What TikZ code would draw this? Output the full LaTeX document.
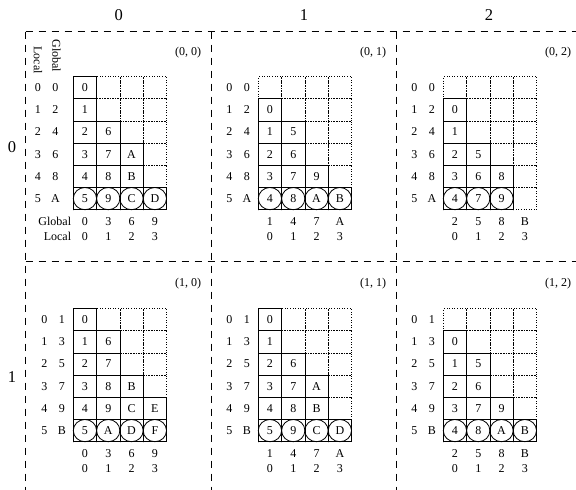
\documentclass[tikz,border=0pt]{standalone}
\usepackage{fontspec}
\setmainfont{Liberation Serif}
\usetikzlibrary{shapes.geometric}

\tikzset{
    emptycell/.style={draw, dotted, line width=0.6pt, anchor=north west, minimum width=23.3pt, minimum height=22.2pt, inner sep=0pt, outer sep=0pt},
    fullcell/.style={draw, line width=0.8pt, anchor=north west, minimum width=23.3pt, minimum height=22.2pt, inner sep=0pt, outer sep=0pt},
    diagcell/.style={ellipse, draw, line width=0.8pt, minimum width=23.3pt, minimum height=22.2pt, inner sep=0pt},
    idx/.style={inner sep=0pt},
    gridhead/.style={font=\fontsize{16.5}{18}\selectfont},
    sep/.style={line width=1.3pt, dash pattern=on 7.5pt off 5.5pt},
}

% #1 grid row, #2 grid column, #3 stored cells, #4 circled cells,
% #5 global row numbers, #6 global column numbers, #7 extra label gap
\newcommand{\procblock}[7]{%
  \begin{scope}[shift={({73.3+185*#2},{76.5+232*#1})}]
    % dotted local array
    \foreach \r in {0,...,5}
      \foreach \c in {0,...,3}
        \node[emptycell] (e#1#2-\r-\c) at ({23.3*\c},{22.2*\r}) {};
    % stored entries
    \foreach \r/\c/\t in {#3}
      \node[fullcell] (f#1#2-\r-\c) at ({23.3*\c},{22.2*\r}) {\t};
    % last local row
    \foreach \c/\t in {#4}
      \node[fullcell] (f#1#2-5-\c) at ({23.3*\c},111) {}
        node[diagcell] (d#1#2-\c) at (f#1#2-5-\c.center) {\t};
    % row indices
    \foreach \g [count=\r from 0] in {#5}
      \node[idx] (rl#1#2-\r) at ([xshift={-40.6pt-#7pt}]e#1#2-\r-0.center) {\r}
        node[idx] (rg#1#2-\r) at ([xshift={-23.1pt-#7pt}]e#1#2-\r-0.center) {\g};
    % column indices
    \foreach \g [count=\c from 0] in {#6}
      \node[idx] (cg#1#2-\c) at ({11.65+23.3*\c},145) {\g}
        node[idx] (cl#1#2-\c) at ({11.65+23.3*\c},160) {\c};
  \end{scope}}

\begin{document}
\begin{tikzpicture}[x=1pt, y=-1pt, font=\fontsize{12}{14}\selectfont]
    \useasboundingbox (0,0) rectangle (576,490);

    % process grid
    \draw[sep] (25.7,31.7) -- (576,31.7);
    \draw[sep] (25.7,261.7) -- (576,261.7);
    \foreach \x in {25.7,211.7,396.7}
        \draw[sep] (\x,31.7) -- (\x,490);

    \node[gridhead] (ch0) at (118.7,15) {0};
    \node[gridhead] (ch1) at (304,15) {1};
    \node[gridhead] (ch2) at (489,15) {2};
    \node[gridhead] (rh0) at (12,146.7) {0};
    \node[gridhead] (rh1) at (12,376.7) {1};

    \node (p00) at (188,53) {(0, 0)};
    \node (p01) at (373,53) {(0, 1)};
    \node (p02) at (558,53) {(0, 2)};
    \node (p10) at (188,283.3) {(1, 0)};
    \node (p11) at (373,283.3) {(1, 1)};
    \node (p12) at (558,283.3) {(1, 2)};

    \node[idx, rotate=-90] (lochead) at (38,60) {Local};
    \node[idx, rotate=-90] (globhead) at (56.5,56) {Global};
    \node[idx, anchor=east] (globword) at (71.3,221.5) {Global};
    \node[idx, anchor=east] (locword) at (71.3,236.5) {Local};

    \procblock{0}{0}{0/0/0, 1/0/1, 2/0/2, 2/1/6, 3/0/3, 3/1/7, 3/2/A, 4/0/4, 4/1/8, 4/2/B}
        {0/5, 1/9, 2/C, 3/D}{0,2,4,6,8,A}{0,3,6,9}{6.5}
    \procblock{0}{1}{1/0/0, 2/0/1, 2/1/5, 3/0/2, 3/1/6, 4/0/3, 4/1/7, 4/2/9}
        {0/4, 1/8, 2/A, 3/B}{0,2,4,6,8,A}{1,4,7,A}{0}
    \procblock{0}{2}{1/0/0, 2/0/1, 3/0/2, 3/1/5, 4/0/3, 4/1/6, 4/2/8}
        {0/4, 1/7, 2/9}{0,2,4,6,8,A}{2,5,8,B}{0}
    \procblock{1}{0}{0/0/0, 1/0/1, 1/1/6, 2/0/2, 2/1/7, 3/0/3, 3/1/8, 3/2/B, 4/0/4, 4/1/9, 4/2/C, 4/3/E}
        {0/5, 1/A, 2/D, 3/F}{1,3,5,7,9,B}{0,3,6,9}{0}
    \procblock{1}{1}{0/0/0, 1/0/1, 2/0/2, 2/1/6, 3/0/3, 3/1/7, 3/2/A, 4/0/4, 4/1/8, 4/2/B}
        {0/5, 1/9, 2/C, 3/D}{1,3,5,7,9,B}{1,4,7,A}{0}
    \procblock{1}{2}{1/0/0, 2/0/1, 2/1/5, 3/0/2, 3/1/6, 4/0/3, 4/1/7, 4/2/9}
        {0/4, 1/8, 2/A, 3/B}{1,3,5,7,9,B}{2,5,8,B}{0}
\end{tikzpicture}
\end{document}
